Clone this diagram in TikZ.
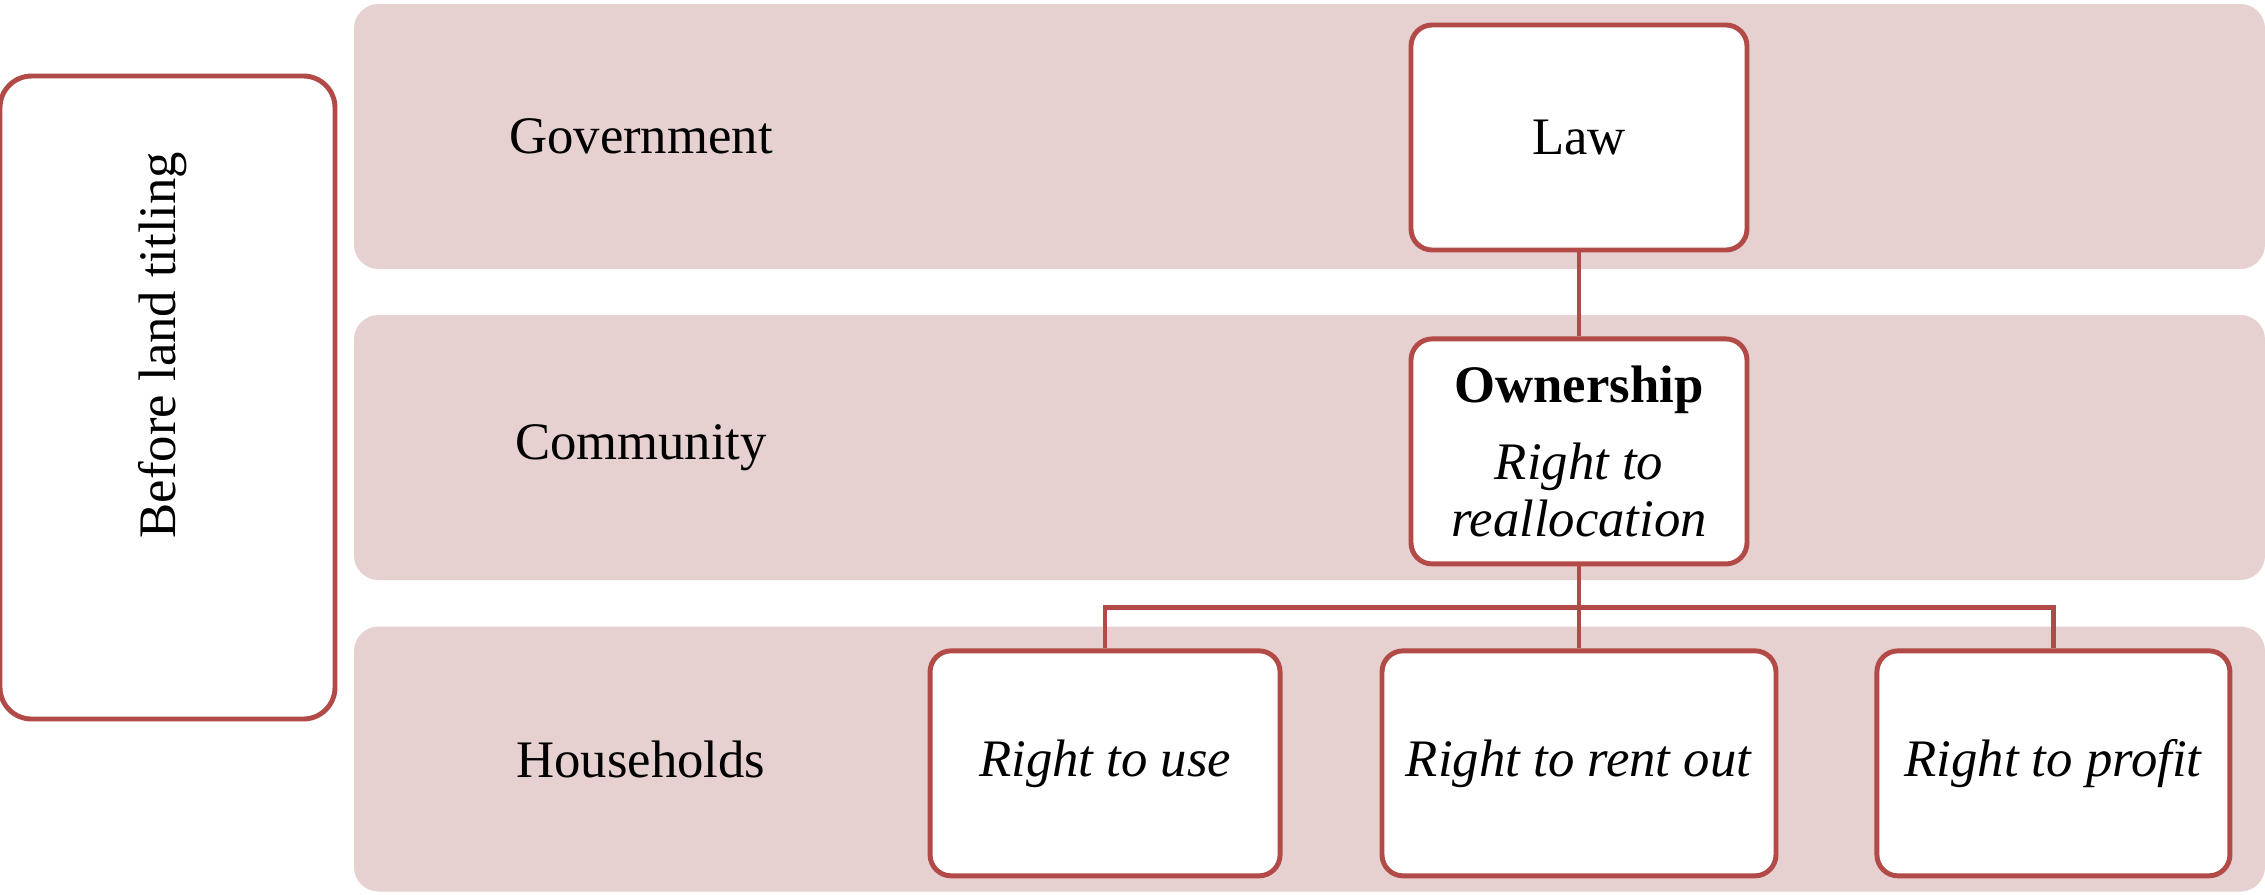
\documentclass[tikz,border=0pt]{standalone}
\usepackage{fontspec}
\setmainfont{Liberation Serif}
\usepackage{xcolor}
\usepackage{tikz}
\usetikzlibrary{positioning,calc}
\definecolor{bandfill}{RGB}{230,208,208}
\definecolor{edgered}{RGB}{178,74,71}

\begin{document}
\begin{tikzpicture}[
    every node/.style={font=\fontsize{15}{16}\selectfont},
    band/.style={rectangle, rounded corners=7pt, fill=bandfill, minimum width=191.1mm, minimum height=26.5mm, inner sep=0pt},
    box/.style={draw=edgered, rectangle, rounded corners=6pt, fill=white, line width=1.4pt, minimum height=22.5mm, align=center, inner sep=2pt},
    side/.style={draw=edgered, rectangle, rounded corners=9pt, fill=white, line width=1.4pt, minimum width=33.5mm, minimum height=64.3mm},
    link/.style={draw=edgered, line width=1.3pt}
]
\useasboundingbox (0,0) rectangle (22.65,-8.94);

% --- Level bands ---
\node[band] (govband) at (13.095,-1.365) {};
\node[band] (comband) at (13.095,-4.475) {};
\node[band] (hhband) at (13.095,-7.59) {};
\node (gov) at (6.41,-1.365) {Government};
\node (com) at (6.41,-4.475) {Community};
\node (hh) at (6.41,-7.59) {Households};

% --- Side box ---
\node[side] (before) at (1.675,-3.975) {};
\node[rotate=90] (beforetxt) at (1.63,-3.45) {Before land titling};

% --- Rights tree ---
\node[box, minimum width=33.6mm] (law) at (15.79,-1.375) {Law};
\node[box, minimum width=33.6mm, below=8.4mm of law] (own) {\textbf{Ownership}\\[6pt]\textit{Right to}\\\textit{reallocation}};
\node[box, minimum width=39.4mm, below=8.2mm of own] (rent) {\textit{Right to rent out}};
\node[box, minimum width=35mm, left=9.7mm of rent] (use) {\textit{Right to use}};
\node[box, minimum width=35.3mm, right=9.6mm of rent] (profit) {\textit{Right to profit}};

% --- Connectors ---
\draw[link] (law.south) -- (own.north);
\draw[link] (own.south) -- (rent.north);
\draw[link] (use.north) |- ($(own.south)!0.5!(rent.north)$) -| (profit.north);
\end{tikzpicture}
\end{document}
